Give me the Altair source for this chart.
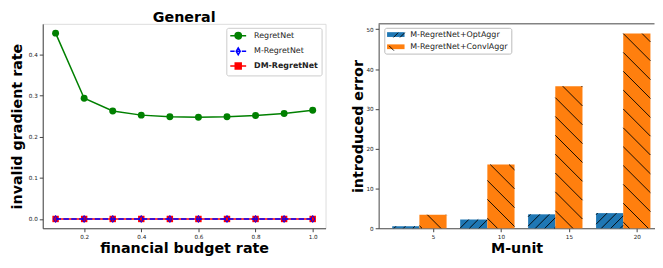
import math
import altair as alt
import pandas as pd

# ---------------- data ----------------
budget_rate = [0.1, 0.2, 0.3, 0.4, 0.5, 0.6, 0.7, 0.8, 0.9, 1.0]
regretnet = [0.451, 0.293, 0.262, 0.252, 0.248, 0.247, 0.248, 0.251, 0.256, 0.264]
m_regretnet = [0.0, 0.0, 0.0, 0.0, 0.0, 0.0, 0.0, 0.0, 0.0, 0.0]
dm_regretnet = [0.0, 0.0, 0.0, 0.0, 0.0, 0.0, 0.0, 0.0, 0.0, 0.0]
series_names = ["RegretNet", "M-RegretNet", "DM-RegretNet"]
panel_title = "General"

m_units = [5, 10, 15, 20]
opt_aggr = [0.5, 2.2, 3.5, 3.8]
convl_aggr = [3.4, 16.0, 35.7, 48.9]
bar_names = ["M-RegretNet+OptAggr", "M-RegretNet+ConvlAggr"]

x_ticks_left = [0.2, 0.4, 0.6, 0.8, 1.0]
y_ticks_left = [0.0, 0.1, 0.2, 0.3, 0.4]
x_ticks_right = [5, 10, 15, 20]
y_ticks_right = [0, 10, 20, 30, 40, 50]

# ---------------- style / layout ----------------
FONT = "DejaVu Sans"
AX = "#444"
W1, W2, H = 285, 278, 206
XD1 = [0.055, 1.045]
YD1 = [-0.02255, 0.47355]
XD2 = [1.0, 21.3]
YD2 = [0.0, 51.35]
BLUE = "#1f77b4"
ORANGE = "#ff7f0e"
IND = dict(fill="independent", stroke="independent", shape="independent")


def axis_style(tp, lp=2):
    return dict(grid=False, labelFontSize=5.7, labelColor="#222", labelFont=FONT,
                titleFontSize=14.4, titleFontWeight="bold", titleFont=FONT, titleColor="black",
                tickSize=3.5, tickColor=AX, domainColor=AX, labelPadding=lp, titlePadding=tp,
                labelFlush=False, labelOverlap=False)


# ---------------- left panel ----------------
left_df = pd.DataFrame({"rate": budget_rate, "regret": regretnet,
                        "m_regret": m_regretnet, "dm_regret": dm_regretnet})

xl = alt.X("rate:Q", scale=alt.Scale(domain=XD1, nice=False, zero=False),
           axis=alt.Axis(values=x_ticks_left, format=".1f", title="financial budget rate", **axis_style(2, 2)))


def yl(field):
    return alt.Y(f"{field}:Q", scale=alt.Scale(domain=YD1, nice=False, zero=False),
                 axis=alt.Axis(values=y_ticks_left, format=".1f", title="invalid gradient rate", **axis_style(4)))


DIAMOND = "M0,-1L0.6,0L0,1L-0.6,0Z"
base_l = alt.Chart(left_df)
g_line = base_l.mark_line(color="green", strokeWidth=1.5).encode(x=xl, y=yl("regret"))
g_pts = base_l.mark_point(shape="circle", filled=True, size=49, color="green", opacity=1).encode(x=xl, y=yl("regret"))
r_line = base_l.mark_line(color="red", strokeWidth=1.5).encode(x=xl, y=yl("dm_regret"))
r_pts = base_l.mark_point(shape="square", filled=True, size=42, color="red", opacity=1).encode(x=xl, y=yl("dm_regret"))
b_line = base_l.mark_line(color="blue", strokeWidth=1.5, strokeDash=[5.5, 2.4]).encode(x=xl, y=yl("m_regret"))
b_pts = base_l.mark_point(shape=DIAMOND, filled=False, size=49, color="blue", strokeWidth=1, opacity=1).encode(x=xl, y=yl("m_regret"))

LEG_CIRCLE = "M-1,0H3M1.8,0A0.8,0.8,0,1,1,0.2,0A0.8,0.8,0,1,1,1.8,0Z"
LEG_DIAMOND = "M-1,0H0.1M0.5,0H1.5M1.9,0H3M1,-0.85L1.5,0L1,0.85L0.5,0Z"
LEG_SQUARE = "M-1,0H3M0.25,-0.75H1.75V0.75H0.25Z"

leg_l = alt.Legend(title=None, orient="top-right", offset=4, symbolSize=64, symbolStrokeWidth=1.5,
                   labelFontSize=8, labelFont=FONT, labelColor="#222", labelOffset=15, padding=3,
                   rowPadding=1.7, fillColor="white", strokeColor="#ccc", cornerRadius=2,
                   labelFontWeight=alt.ExprRef(expr="datum.label === 'DM-RegretNet' ? 'bold' : 'normal'"))
legend_left = alt.Chart(pd.DataFrame({"series": series_names})).transform_filter("false").mark_point(
    opacity=1).encode(
    stroke=alt.Stroke("series:N", scale=alt.Scale(domain=series_names, range=["green", "blue", "red"]), legend=leg_l),
    fill=alt.Fill("series:N", scale=alt.Scale(domain=series_names, range=["green", "transparent", "red"]), legend=leg_l),
    shape=alt.Shape("series:N", scale=alt.Scale(domain=series_names, range=[LEG_CIRCLE, LEG_DIAMOND, LEG_SQUARE]), legend=leg_l),
)

title_l = alt.Chart(pd.DataFrame({"t": [panel_title]})).mark_text(
    fontSize=14.4, fontWeight="bold", font=FONT, baseline="alphabetic", align="center", color="black").encode(
    x=alt.value(W1 / 2), y=alt.value(-2), text="t:N")

left = alt.layer(g_line, g_pts, r_line, r_pts, b_line, b_pts, legend_left, title_l).properties(width=W1, height=H)

# ---------------- right panel ----------------
bars_opt = pd.DataFrame({"x0": [m - 3 for m in m_units], "x1": [m - 1 for m in m_units],
                         "v": opt_aggr, "z": [0] * len(m_units)})
bars_conv = pd.DataFrame({"x0": [m - 1 for m in m_units], "x1": [m + 1 for m in m_units],
                          "v": convl_aggr, "z": [0] * len(m_units)})

kx = W2 / (XD2[1] - XD2[0])
ky = H / (YD2[1] - YD2[0])


def hatch(df, direction, spacing, phase):
    rows = []
    for _, r in df.iterrows():
        sx0 = (r.x0 - XD2[0]) * kx
        sx1 = (r.x1 - XD2[0]) * kx
        sy0 = (YD2[1] - r.v) * ky
        sy1 = (YD2[1] - r.z) * ky
        segs = []
        if direction == "back":  # '\'  sy = sx + c
            cmin, cmax = sy0 - sx1, sy1 - sx0
            c = math.ceil((cmin - phase) / spacing) * spacing + phase
            while c <= cmax:
                a, b = max(sx0, sy0 - c), min(sx1, sy1 - c)
                if b - a > 0.3:
                    segs.append((a, a + c, b, b + c))
                c += spacing
        else:  # '/'  sy = c - sx
            cmin, cmax = sy0 + sx0, sy1 + sx1
            c = math.ceil((cmin - phase) / spacing) * spacing + phase
            while c <= cmax:
                a, b = max(sx0, c - sy1), min(sx1, c - sy0)
                if b - a > 0.3:
                    segs.append((a, c - a, b, c - b))
                c += spacing
        for (ax, ay, bx, by) in segs:
            rows.append({"x0": XD2[0] + ax / kx, "v": YD2[1] - ay / ky,
                         "x1": XD2[0] + bx / kx, "z": YD2[1] - by / ky})
    return pd.DataFrame(rows)


hatch_df = pd.concat([hatch(bars_opt, "fwd", 9.5, 3.0), hatch(bars_conv, "back", 19.0, 10.3)], ignore_index=True)

xr = alt.X("x0:Q", scale=alt.Scale(domain=XD2, nice=False, zero=False),
           axis=alt.Axis(values=x_ticks_right, format="d", title="M-unit", **axis_style(2, 2)))
yr = alt.Y("v:Q", scale=alt.Scale(domain=YD2, nice=False, zero=False),
           axis=alt.Axis(values=y_ticks_right, format="d", title="introduced error", **axis_style(1)))

bar1 = alt.Chart(bars_opt).mark_rect(color=BLUE).encode(x=xr, x2="x1:Q", y=yr, y2="z:Q")
bar2 = alt.Chart(bars_conv).mark_rect(color=ORANGE).encode(x=xr, x2="x1:Q", y=yr, y2="z:Q")
hatch_layer = alt.Chart(hatch_df).mark_rule(color="black", strokeWidth=0.9).encode(
    x=xr, x2="x1:Q", y=yr, y2="z:Q")
top_rule = alt.Chart(pd.DataFrame({"a": [0]})).mark_rule(color=AX, strokeWidth=1).encode(
    x=alt.value(0), x2=alt.value(W2), y=alt.value(0))

LEG_RECT = "M-1,-0.6H3.4V0.6H-1Z"
HATCH_B = "M-1,-0.6L-1,-0.6M3.4,0.6L3.4,0.6M0.48,0.6L1.68,-0.6M2.14,0.6L3.34,-0.6"
HATCH_O = "M-1,-0.6L-1,-0.6M3.4,0.6L3.4,0.6M-0.6,-0.6L0.6,0.6"

legA = alt.Legend(title=None, orient="none", legendX=5.7, legendY=4, symbolSize=64,
                  symbolStrokeWidth=0, labelFontSize=8, labelFont=FONT, labelColor="#222", labelOffset=15.3,
                  padding=2.8, rowPadding=4.3, fillColor="white", strokeColor="#bbb", cornerRadius=2)
legB = alt.Legend(title=None, orient="none", legendX=5.7, legendY=4, symbolSize=64,
                  symbolStrokeWidth=0.9, labelFontSize=8, labelFont=FONT, labelColor="transparent",
                  labelOffset=15.3, padding=2.8, rowPadding=4.3)

legend_a = alt.Chart(pd.DataFrame({"s": bar_names})).transform_filter("false").mark_point(
    opacity=1).encode(
    fill=alt.Fill("s:N", scale=alt.Scale(domain=bar_names, range=[BLUE, ORANGE]), legend=legA),
    stroke=alt.Stroke("s:N", scale=alt.Scale(domain=bar_names, range=[BLUE, ORANGE]), legend=legA),
    shape=alt.Shape("s:N", scale=alt.Scale(domain=bar_names, range=[LEG_RECT, LEG_RECT]), legend=legA))
legend_b = alt.Chart(pd.DataFrame({"h": bar_names})).transform_filter("false").mark_point(
    opacity=1).encode(
    stroke=alt.Stroke("h:N", scale=alt.Scale(domain=bar_names, range=["black", "black"]), legend=legB),
    fill=alt.Fill("h:N", scale=alt.Scale(domain=bar_names, range=["transparent", "transparent"]), legend=legB),
    shape=alt.Shape("h:N", scale=alt.Scale(domain=bar_names, range=[HATCH_B, HATCH_O]), legend=legB))

title_r = alt.Chart(pd.DataFrame({"t": [" "]})).mark_text(
    fontSize=14.4, fontWeight="bold", font=FONT, baseline="alphabetic", align="center", color="black").encode(
    x=alt.value(W2 / 2), y=alt.value(-2), text="t:N")

right = alt.layer(bar1, bar2, hatch_layer, top_rule, legend_a, legend_b, title_r).resolve_scale(**IND).properties(
    width=W2, height=H, view=alt.ViewBackground(stroke=None))

chart = alt.hconcat(left, right, spacing=23.5).resolve_scale(**IND).properties(padding=0).configure_view(
    stroke=AX, strokeWidth=1).configure(font=FONT)

chart.save("out.html", embed_options={"renderer": "svg", "actions": False})
